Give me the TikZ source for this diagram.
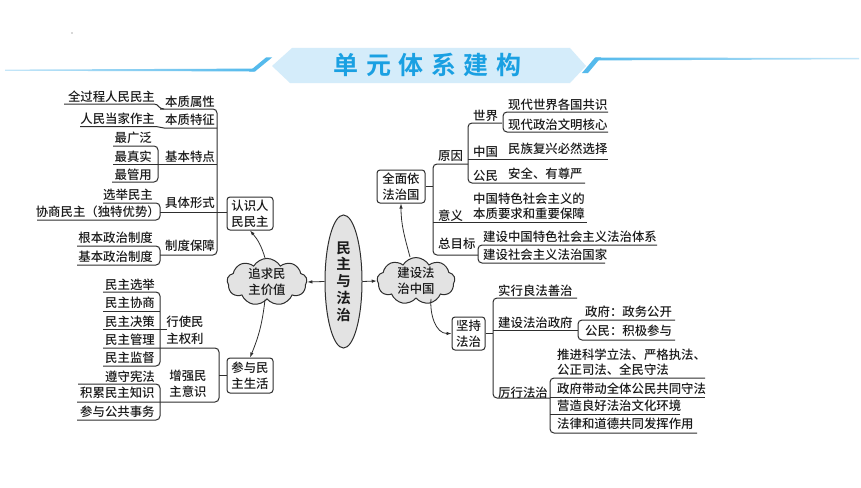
\documentclass[tikz,border=0pt]{standalone}
\usepackage{fontspec}
\setmainfont{Noto Sans CJK SC Medium}[BoldFont={Noto Sans CJK SC Bold}]
\usetikzlibrary{shapes.symbols,shapes.geometric,arrows.meta}
\definecolor{lc}{HTML}{2E2E2E}
\definecolor{tc}{HTML}{1A1A1A}
\definecolor{bannerfill}{HTML}{D4ECFA}
\definecolor{titleblue}{HTML}{1AA0E2}
\definecolor{hdrdark}{HTML}{55BAEC}
\definecolor{hdrlight}{HTML}{C5E6F8}
\definecolor{shapefill}{HTML}{E3E3E3}
\begin{document}
\begin{tikzpicture}[x=1pt,y=-1pt,
  ln/.style={draw=lc,line width=1pt,rounded corners=4pt},
  txt/.style={inner sep=0pt,text=tc,font=\fontsize{12.4}{15}\selectfont},
  tw/.style={txt,anchor=west},
  te/.style={txt,anchor=east},
  boxn/.style={draw=lc,line width=1pt,rounded corners=3pt,fill=white,inner sep=0pt,align=center,text=tc,font=\fontsize{12.4}{16}\selectfont},
  cloudn/.style={cloud,cloud puffs=9,cloud puff arc=120,cloud ignores aspect,draw=lc,line width=1pt,fill=shapefill,inner sep=0pt,align=center,text=tc,font=\fontsize{12.4}{16}\selectfont},
  arr/.style={draw=lc,line width=0.8pt,-{Latex[length=5pt,width=3.5pt]}},
]
\fill[white] (0,0) rectangle (861,487);
\useasboundingbox (0,0) rectangle (861,487);

% ---------- header ----------
\fill[gray!60] (72,33) circle (0.8);
\fill[bannerfill] (272,66) -- (292,48) -- (570,48) -- (586,66) -- (570,83) -- (290,83) -- cycle;
\shade[left color=hdrlight,right color=hdrdark] (5,69.6) -- (254,68.6) -- (254,71.4) -- (5,70.8) -- cycle;
\fill[hdrdark] (249,71.5) -- (266,57.5) -- (272,57.5) -- (255,71.5) -- cycle;
\fill[hdrdark] (582,73) -- (595,57.5) -- (601,57.5) -- (588,73) -- cycle;
\shade[left color=hdrdark,right color=hdrlight] (596,57.5) -- (859,58) -- (859,59.3) -- (596,60.4) -- cycle;
\node[inner sep=0pt,text=titleblue,font=\fontsize{25}{25}\selectfont\bfseries] (title) at (427.5,65)
  {单\hspace{7.5pt}元\hspace{7.5pt}体\hspace{7.5pt}系\hspace{7.5pt}建\hspace{7.5pt}构};

% ---------- central shapes ----------
\node[ellipse,draw=lc,line width=1pt,fill=shapefill,minimum width=37pt,minimum height=133pt,inner sep=0pt,
  align=center,text=tc,font=\fontsize{14.5}{16.7}\selectfont\bfseries] (center) at (343.5,281.5) {民\\主\\与\\法\\治};
\node[cloudn,minimum width=80pt,minimum height=46pt] (cl1) at (267,282) {追求民\\主价值};
\node[cloudn,minimum width=78pt,minimum height=44pt] (cl2) at (416,281) {建设法\\治中国};

\node[boxn,minimum width=46pt,minimum height=33pt] (b1) at (250,213.5) {认识人\\民民主};
\node[boxn,minimum width=46pt,minimum height=35pt] (b4) at (250,375.5) {参与民\\主生活};
\node[boxn,minimum width=48pt,minimum height=33pt] (b2) at (401,186.5) {全面依\\法治国};
\node[boxn,minimum width=33pt,minimum height=33pt] (b3) at (468.5,333.5) {坚持\\法治};

\draw[arr] (center.west) -- (cl1.east);
\draw[arr] (center.east) -- (cl2.west);
\draw[arr] ([xshift=-2pt]cl1.north) to[bend right=12] (b1.south);
\draw[arr] ([xshift=-2pt]cl1.south) to[bend left=8] (b4.north);
\draw[arr] ([xshift=-6pt]cl2.north) to[out=105,in=-90] (b2.south);
\draw[arr] ([xshift=15pt]cl2.south) to[out=-95,in=180] (b3.west);

% ---------- left upper tree ----------
\draw[ln] (160,109) -- (217,109) -- (217,255) -- (160,255);
\draw[draw=lc,line width=1pt] (64,104) -- (154,104) .. controls (159,104) and (158,109) .. (164,109);
\draw[draw=lc,line width=1pt] (80,126.5) -- (156,126.5) .. controls (160,126.5) and (160,128) .. (164,128) -- (217,128);
\draw[ln] (113,146) -- (158,146) -- (158,182) -- (112,182);
\draw[ln] (113,164) -- (217,164);
\draw[ln] (103,203) -- (160,203) -- (160,220) -- (37,220);
\draw[ln] (160,212) -- (b1.west |- 0,212);
\draw[ln] (77,246) -- (160,246) -- (160,265) -- (77,265);

\node[te] (t1) at (155,97) {全过程人民民主};
\node[te] (t2) at (155,119) {人民当家作主};
\node[te] (t3) at (152,138) {最广泛};
\node[te] (t4) at (152,157) {最真实};
\node[te] (t5) at (152,175) {最管用};
\node[te] (t6) at (153,195) {选举民主};
\node[te] (t7) at (160,212) {协商民主（独特优势）};
\node[te] (t8) at (153,238) {根本政治制度};
\node[te] (t9) at (153,257) {基本政治制度};
\node[tw] (l1) at (165,102) {本质属性};
\node[tw] (l2) at (165,120) {本质特征};
\node[tw] (l3) at (165,157) {基本特点};
\node[tw] (l4) at (165,203) {具体形式};
\node[tw] (l5) at (165,246) {制度保障};

% ---------- left lower tree ----------
\draw[ln] (103,348) -- (219,348) -- (219,402) -- (77,402);
\draw[ln] (103,292) -- (160,292) -- (160,366) -- (103,366);
\draw[ln] (103,311) -- (160,311);
\draw[ln] (103,329) -- (167,329);
\draw[ln] (78,384) -- (160,384) -- (160,420) -- (77,420);
\draw[ln] (219,375) -- (b4.west |- 0,375);

\node[tw] (u1) at (105,285) {民主选举};
\node[tw] (u2) at (105,303) {民主协商};
\node[tw] (u3) at (105,322) {民主决策};
\node[tw] (u4) at (105,340) {民主管理};
\node[tw] (u5) at (105,358) {民主监督};
\node[tw] (u6) at (105,377) {遵守宪法};
\node[tw] (u7) at (80,393) {积累民主知识};
\node[tw] (u8) at (80,412) {参与公共事务};
\node[txt,align=center,font=\fontsize{12.4}{17}\selectfont] (m1) at (185,330.5) {行使民\\主权利};
\node[txt,align=center,font=\fontsize{12.4}{16}\selectfont] (m2) at (188,384) {增强民\\主意识};

% ---------- right upper tree ----------
\draw[ln] (468,164) -- (433,164) -- (433,255) -- (478,255);
\draw[ln] (b2.east) -- (433,186.5);
\draw[ln] (502,123) -- (468,123) -- (468,183) -- (585,183);
\draw[ln] (468,159) -- (608,159);
\draw[ln] (608,112) -- (503,112) -- (503,132) -- (608,132);
\draw[ln] (433,222) -- (587,222);
\draw[ln] (657,245) -- (478,245) -- (478,263) -- (605,263);

\node[tw] (r1) at (438,156) {原因};
\node[tw] (r2) at (473,116) {世界};
\node[tw] (r3) at (473,152) {中国};
\node[tw] (r4) at (473,176) {公民};
\node[tw] (r5) at (508,105) {现代世界各国共识};
\node[tw] (r6) at (508,125) {现代政治文明核心};
\node[tw] (r7) at (508,149) {民族复兴必然选择};
\node[tw] (r8) at (508,174) {安全、有尊严};
\node[tw] (r9) at (438,216) {意义};
\node[tw,align=left] (r10) at (473,206) {中国特色社会主义的\\本质要求和重要保障};
\node[tw] (r11) at (438,244) {总目标};
\node[tw] (r12) at (483,237) {建设中国特色社会主义法治体系};
\node[tw] (r13) at (483,255) {建设社会主义法治国家};

% ---------- right lower tree ----------
\draw[ln] (577,298) -- (493,298) -- (493,398) -- (550,398);
\draw[ln] (b3.east) -- (493,333.5);
\draw[ln] (493,330) -- (578,330);
\draw[ln] (675,320) -- (578,320) -- (578,340) -- (675,340);
\draw[ln] (705,378) -- (550,378) -- (550,433) -- (697,433);
\draw[ln] (550,397) -- (705,397);
\draw[ln] (550,414) -- (680,414);

\node[tw] (s1) at (498,291) {实行良法善治};
\node[tw] (s2) at (498,322.5) {建设法治政府};
\node[tw] (s3) at (585,312) {政府：政务公开};
\node[tw] (s4) at (585,331) {公民：积极参与};
\node[tw] (s5) at (498,392.5) {厉行法治};
\node[tw,align=left] (s6) at (557,362.5) {推进科学立法、严格执法、\\公正司法、全民守法};
\node[tw] (s7) at (557,389) {政府带动全体公民共同守法};
\node[tw] (s8) at (557,406) {营造良好法治文化环境};
\node[tw] (s9) at (557,424) {法律和道德共同发挥作用};
\end{tikzpicture}
\end{document}
